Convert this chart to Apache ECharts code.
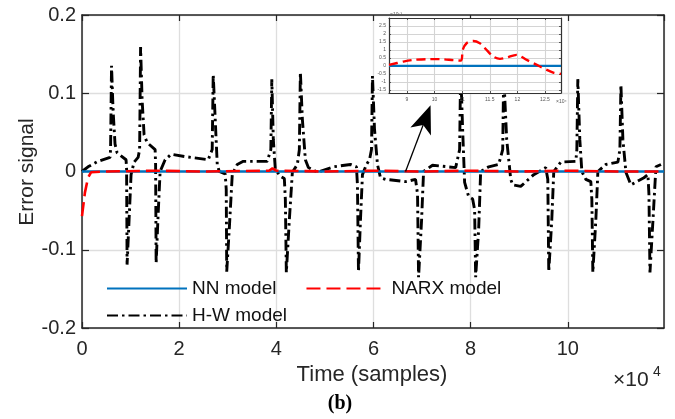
<!DOCTYPE html>
<html><head><meta charset="utf-8">
<script src="https://cdn.jsdelivr.net/npm/echarts@6/dist/echarts.min.js"></script>
<style>html,body{margin:0;padding:0;background:#fff}#c{width:675px;height:419px}</style>
</head><body><div id="c"></div>
<script>
// ---- data (x in units of 10^4 samples) ----
const seriesNames = ['NN model', 'NARX model', 'H-W model'];
const yTicks = [-0.2, -0.1, 0, 0.1, 0.2];
const xTicks = [0, 2, 4, 6, 8, 10];

const nnX = [0, 11.98];
const nnY = [0, 0];

const narxX = [0, 0.06, 0.124, 0.186, 0.5, 1.5, 2.5, 3.85, 3.92, 4.0, 5, 6, 7, 8, 9, 10, 11, 11.98];
const narxY = [-0.057, -0.027, -0.008, -0.001, 0, 0.001, 0, 0.001, 0.004, 0.001, 0, 0.001, 0, 0.001, 0, 0.001, 0, 0];

const hwX = [0,0.124,0.330,0.577,0.588,0.608,0.639,0.680,0.722,0.907,0.918,0.928,0.969,1.010,1.072,1.155,1.186,1.206,1.237,1.278,1.340,1.505,1.515,1.526,1.567,1.608,1.711,1.835,2.124,2.598,2.680,2.701,2.742,2.784,2.825,2.948,2.969,2.979,3.031,3.093,3.196,3.320,3.814,3.887,3.907,3.938,3.979,4.082,4.165,4.186,4.206,4.268,4.330,4.433,4.474,4.495,4.536,4.598,4.660,4.845,5.175,5.526,5.649,5.670,5.691,5.732,5.773,5.856,5.918,5.959,5.979,6.021,6.082,6.144,6.247,6.660,6.866,6.907,6.928,6.990,7.031,7.216,7.691,7.773,7.794,7.835,7.876,7.959,8.041,8.082,8.103,8.165,8.206,8.371,8.577,8.660,8.680,8.742,8.825,8.866,9.031,9.299,9.546,9.588,9.608,9.670,9.711,9.856,10.165,10.186,10.206,10.247,10.289,10.371,10.474,10.495,10.515,10.577,10.619,10.784,11.031,11.072,11.093,11.134,11.196,11.299,11.567,11.649,11.670,11.691,11.753,11.814,11.918];
const hwY = [0,0.006,0.013,0.018,0.028,0.135,0.079,0.035,0.024,0.015,0.003,-0.119,-0.062,-0.004,0.012,0.018,0.028,0.159,0.092,0.047,0.037,0.028,0.009,-0.117,-0.055,0,0.015,0.022,0.019,0.015,0.028,0.124,0.067,0.009,0,-0.003,-0.023,-0.128,-0.074,-0.004,0.009,0.013,0.013,0.028,0.118,0.041,0.003,-0.006,-0.009,-0.036,-0.129,-0.062,-0.001,0.009,0.028,0.127,0.067,0.015,0.005,-0.001,0.006,0.009,0.006,-0.017,-0.128,-0.062,-0.004,0.009,0.015,0.028,0.122,0.054,0.009,-0.008,-0.010,-0.013,-0.010,-0.029,-0.135,-0.062,0,0.008,0.005,0.028,0.131,0.054,-0.014,-0.032,-0.035,-0.049,-0.135,-0.074,0,0.006,0.009,0.028,0.124,0.041,-0.010,-0.017,-0.019,-0.004,0.005,-0.010,-0.128,-0.062,0,0.012,0.013,0.028,0.118,0.041,0,-0.010,-0.013,-0.036,-0.129,-0.062,0,0.009,0.012,0.028,0.111,0.041,-0.001,-0.017,-0.008,-0.004,-0.029,-0.129,-0.062,0.006,0.009];

// inset (zoomed view, arbitrary local units, y in 10^-3)
const insetNnX = [-0.65, 1.97, 2.0, 2.03, 5.58];
const insetNnY = [0, 0, -0.12, 0, 0];
const insetNarxX = [-0.65, -0.13, 0.23, 0.71, 1.2, 1.68, 1.96, 2.02, 2.16, 2.4, 2.64, 2.83, 3.13, 3.37, 3.61, 3.97, 4.34, 4.82, 5.3, 5.58];
const insetNarxY = [0.06, 0.27, 0.375, 0.42, 0.42, 0.36, 0.33, 1.0, 1.42, 1.56, 1.42, 1.1, 0.58, 0.44, 0.52, 0.69, 0.375, -0.04, -0.42, -0.5];
const insetXLabels = ['9', '10', '11', '11.5', '12', '12.5'];

// arrow annotation in data coordinates (start, tip)
const arrowFrom = [6.66, 0];
const arrowTo = [7.175, 0.0846];

const zip = (a, b) => a.slice(0, Math.min(a.length, b.length)).map((v, i) => [v, b[i]]);

const FONT = '"Liberation Sans", Arial, Helvetica, sans-serif';
const AX = '#262626';
const GRID = '#dedede';
const BLUE = '#0072BD', RED = '#FF0000', BLACK = '#000000';

const chart = echarts.init(document.getElementById('c'), null, {renderer: 'canvas'});

const mainX = {
  type: 'value', gridIndex: 0, min: 0, max: 11.98, interval: 2, position: 'bottom',
  axisLine: {show: true, onZero: false, lineStyle: {color: AX, width: 1.5}},
  axisTick: {show: true, inside: true, length: 6, lineStyle: {color: AX, width: 1.2}},
  axisLabel: {show: true, margin: 11, fontFamily: FONT, fontSize: 20, color: AX, showMaxLabel: false},
  splitLine: {show: true, lineStyle: {color: GRID, width: 1.3}}
};
const mainXTop = {
  type: 'value', gridIndex: 0, min: 0, max: 11.98, interval: 2, position: 'top',
  axisLine: {show: true, onZero: false, lineStyle: {color: AX, width: 1.5}},
  axisTick: {show: true, inside: true, length: 6, lineStyle: {color: AX, width: 1.2}},
  axisLabel: {show: false}, splitLine: {show: false}
};
const mainY = {
  type: 'value', gridIndex: 0, min: -0.2, max: 0.2, interval: 0.1, position: 'left',
  axisLine: {show: true, onZero: false, lineStyle: {color: AX, width: 1.5}},
  axisTick: {show: true, inside: true, length: 7, lineStyle: {color: AX, width: 1.2}},
  axisLabel: {show: true, margin: 6, fontFamily: FONT, fontSize: 20, color: AX},
  splitLine: {show: true, lineStyle: {color: GRID, width: 1.3}}
};
const mainYRight = {
  type: 'value', gridIndex: 0, min: -0.2, max: 0.2, interval: 0.1, position: 'right',
  axisLine: {show: true, onZero: false, lineStyle: {color: AX, width: 1.5}},
  axisTick: {show: true, inside: true, length: 7, lineStyle: {color: AX, width: 1.2}},
  axisLabel: {show: false}, splitLine: {show: false}
};
const insetX = {
  type: 'value', gridIndex: 1, min: -0.65, max: 5.58, position: 'bottom', z: 6,
  axisLine: {show: true, onZero: false, lineStyle: {color: '#333', width: 1.2}},
  axisTick: {show: true, inside: true, length: 2, lineStyle: {color: '#333', width: 0.8}},
  axisLabel: {show: true, margin: 4, fontFamily: FONT, fontSize: 5, color: '#555', showMinLabel: false, showMaxLabel: false,
    formatter: (v) => { const i = Math.round(v); return (Math.abs(v - i) < 1e-6 && insetXLabels[i] !== undefined) ? insetXLabels[i] : ''; }},
  splitLine: {show: true, lineStyle: {color: '#d4d4d4', width: 1.1}}
};
const insetXTop = {
  type: 'value', gridIndex: 1, min: -0.65, max: 5.58, position: 'top', z: 6,
  axisLine: {show: true, onZero: false, lineStyle: {color: '#333', width: 1.2}},
  axisTick: {show: true, inside: true, length: 2, lineStyle: {color: '#333', width: 0.8}},
  axisLabel: {show: false}, splitLine: {show: false}
};
const insetY = {
  type: 'value', gridIndex: 1, min: -1.7, max: 3.0, splitNumber: 9, position: 'left', z: 6,
  axisLine: {show: true, onZero: false, lineStyle: {color: '#333', width: 1.2}},
  axisTick: {show: true, inside: true, length: 2, lineStyle: {color: '#333', width: 0.8}},
  axisLabel: {show: true, margin: 3, fontFamily: FONT, fontSize: 5, color: '#555', showMinLabel: false, showMaxLabel: false},
  splitLine: {show: true, lineStyle: {color: '#d4d4d4', width: 1.1}}
};
const insetYRight = {
  type: 'value', gridIndex: 1, min: -1.7, max: 3.0, splitNumber: 9, position: 'right', z: 6,
  axisLine: {show: true, onZero: false, lineStyle: {color: '#333', width: 1.2}},
  axisTick: {show: true, inside: true, length: 2, lineStyle: {color: '#333', width: 0.8}},
  axisLabel: {show: false}, splitLine: {show: false}
};

const legendCommon = {
  orient: 'horizontal', padding: 0, itemWidth: 80, itemHeight: 14,
  textStyle: {fontFamily: FONT, fontSize: 19, color: '#111'}, selectedMode: false,
  itemStyle: {opacity: 0, color: 'rgba(0,0,0,0)', borderWidth: 0}
};

const option = {
  animation: false,
  backgroundColor: '#ffffff',
  grid: [
    {left: 82, right: 11, top: 15, bottom: 91, containLabel: false},
    {left: 389, top: 18, width: 172, height: 75, show: true, backgroundColor: '#ffffff', borderColor: '#333', borderWidth: 0, z: 5}
  ],
  xAxis: [mainX, mainXTop, insetX, insetXTop],
  yAxis: [mainY, mainYRight, insetY, insetYRight],
  legend: [
    Object.assign({data: ['NN model', 'NARX model'], left: 106, top: 279, itemGap: 29}, legendCommon),
    Object.assign({data: ['H-W model'], left: 106, top: 306}, legendCommon)
  ],
  series: [
    {name: 'H-W model', type: 'line', xAxisIndex: 0, yAxisIndex: 0, data: zip(hwX, hwY), symbol: 'none', showSymbol: false,
      lineStyle: {color: BLACK, width: 2.9, type: [11, 4, 2.5, 4]}, itemStyle: {color: BLACK}, z: 2},
    {name: 'NN model', type: 'line', xAxisIndex: 0, yAxisIndex: 0, data: zip(nnX, nnY), symbol: 'none', showSymbol: false,
      lineStyle: {color: BLUE, width: 2.6, type: 'solid'}, itemStyle: {color: BLUE}, z: 3},
    {name: 'NARX model', type: 'line', xAxisIndex: 0, yAxisIndex: 0, data: zip(narxX, narxY), symbol: 'none', showSymbol: false,
      lineStyle: {color: RED, width: 2.6, type: [14, 6]}, itemStyle: {color: RED}, z: 4},
    {name: 'inset NN', type: 'line', xAxisIndex: 2, yAxisIndex: 2, data: zip(insetNnX, insetNnY), symbol: 'none', showSymbol: false,
      lineStyle: {color: BLUE, width: 2.2}, z: 7, silent: true},
    {name: 'inset NARX', type: 'line', xAxisIndex: 2, yAxisIndex: 2, data: zip(insetNarxX, insetNarxY), symbol: 'none', showSymbol: false, smooth: 0.3,
      lineStyle: {color: RED, width: 2.4, type: [9, 5]}, z: 8, silent: true}
  ]
};
chart.setOption(option);

// annotations: arrow and titles
const p0 = chart.convertToPixel({gridIndex: 0}, arrowFrom);
const p1 = chart.convertToPixel({gridIndex: 0}, arrowTo);
const dx = p1[0] - p0[0], dy = p1[1] - p0[1];
const L = Math.sqrt(dx * dx + dy * dy), ux = dx / L, uy = dy / L, nx = -uy, ny = ux;
const headLen = 28, headHalf = 11, notch = 21;
const c1 = [p1[0] - ux * headLen + nx * headHalf, p1[1] - uy * headLen + ny * headHalf];
const c2 = [p1[0] - ux * headLen - nx * headHalf, p1[1] - uy * headLen - ny * headHalf];
const nb = [p1[0] - ux * notch, p1[1] - uy * notch];

chart.setOption({
  graphic: [
    {type: 'line', z: 20, shape: {x1: p0[0], y1: p0[1], x2: nb[0], y2: nb[1]}, style: {stroke: '#000', lineWidth: 1.3}},
    {type: 'polygon', z: 20, shape: {points: [p1, c1, nb, c2]}, style: {fill: '#000'}},
    {type: 'text', z: 20, x: 27, y: 172, rotation: Math.PI / 2,
      style: {text: 'Error signal', fontFamily: FONT, fontSize: 21, fill: AX, align: 'center', verticalAlign: 'middle'}},
    {type: 'text', z: 20, x: 372, y: 375,
      style: {text: 'Time (samples)', fontFamily: FONT, fontSize: 22, fill: AX, align: 'center', verticalAlign: 'middle'}},
    {type: 'text', z: 20, x: 613, y: 380,
      style: {text: '\u00d710', fontFamily: FONT, fontSize: 21, fill: AX, align: 'left', verticalAlign: 'middle'}},
    {type: 'text', z: 20, x: 653, y: 372,
      style: {text: '4', fontFamily: FONT, fontSize: 14, fill: AX, align: 'left', verticalAlign: 'middle'}},
    {type: 'text', z: 20, x: 340, y: 404,
      style: {text: '(b)', fontFamily: '"Liberation Serif", "Times New Roman", serif', fontWeight: 'bold', fontSize: 20, fill: '#000', align: 'center', verticalAlign: 'middle'}},
    {type: 'text', z: 20, x: 390, y: 15,
      style: {text: '\u00d710\u207b\u00b3', fontFamily: FONT, fontSize: 5, fill: '#555', align: 'left', verticalAlign: 'middle'}},
    {type: 'text', z: 20, x: 556, y: 102,
      style: {text: '\u00d710\u2074', fontFamily: FONT, fontSize: 5, fill: '#555', align: 'left', verticalAlign: 'middle'}}
  ]
});
</script>
</body></html>
